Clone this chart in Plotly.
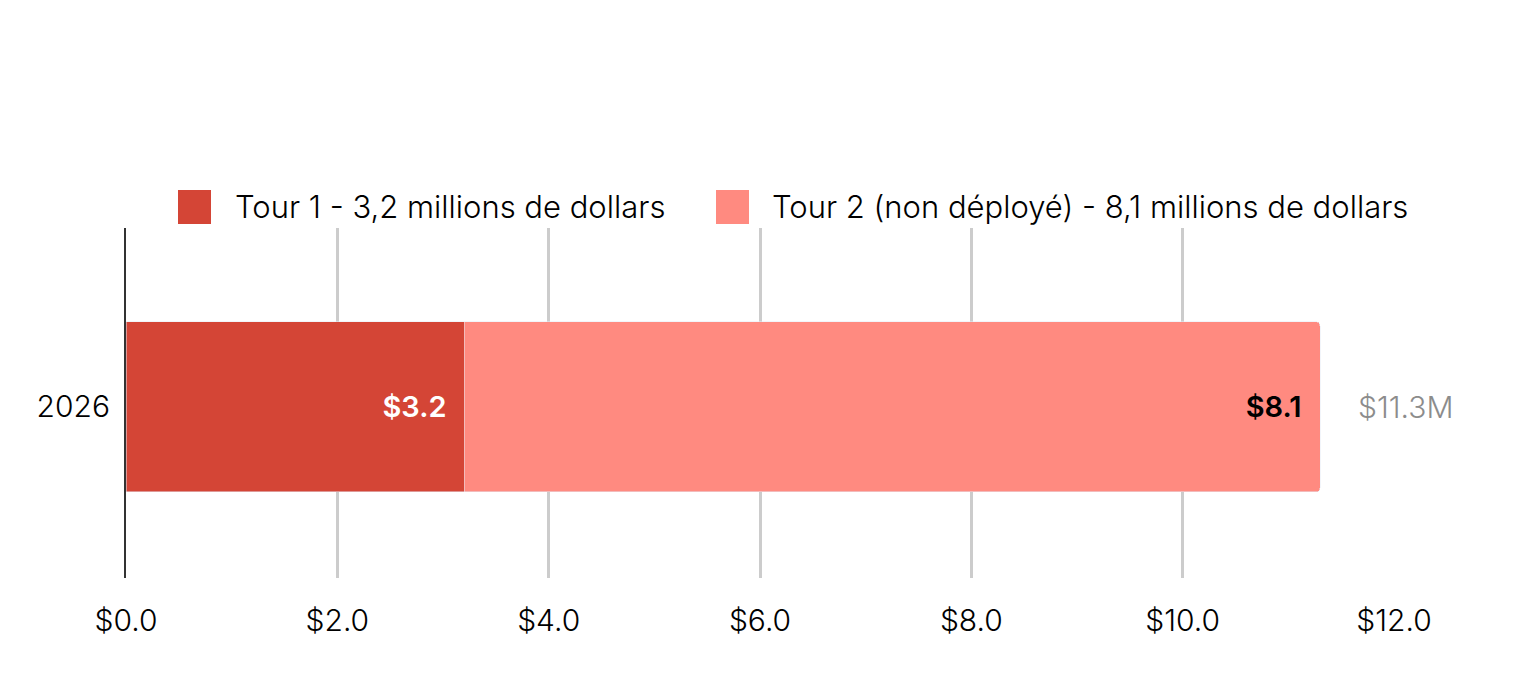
import plotly.graph_objects as go

# data
years = ["2026"]
tour1 = [3.2]
tour2 = [8.1]
series_names = ["Tour 1 - 3,2 millions de dollars",
                "Tour 2 (non déployé) - 8,1 millions de dollars"]
colors = ["#D44536", "#FF8A80"]
tick_vals = [0, 2, 4, 6, 8, 10, 12]
tick_text = ["$0.0", "$2.0", "$4.0", "$6.0", "$8.0", "$10.0", "$12.0"]
totals = [a + b for a, b in zip(tour1, tour2)]

font_fam = "Inter"
W, H = 1534, 695
ML, MR, MT, MB = 126, 140, 228, 117
PW, PH = W - ML - MR, H - MT - MB


def px_x(px):
    return (px - ML) / PW


def px_y(py):
    return (H - MB - py) / PH


pad = "&nbsp;&nbsp;"

fig = go.Figure()
fig.add_trace(go.Bar(
    y=years, x=tour1, orientation="h", name=series_names[0],
    marker_color=colors[0], width=0.486,
    text=[f"${v:.1f}{pad}" for v in tour1], textposition="inside",
    insidetextanchor="end",
    textfont=dict(family=font_fam, size=29, color="white", weight=600),
    hoverinfo="skip", showlegend=False,
))
fig.add_trace(go.Bar(
    y=years, x=tour2, orientation="h", name=series_names[1],
    marker_color=colors[1], width=0.486,
    text=[f"${v:.1f}{pad}" for v in tour2], textposition="inside",
    insidetextanchor="end",
    textfont=dict(family=font_fam, size=29, color="black", weight=600),
    hoverinfo="skip", showlegend=False,
))

# total label at the end of the stack (category axis -> use the category index)
for i, t in enumerate(totals):
    fig.add_annotation(x=t, y=i, text=f"${t:.1f}M", showarrow=False,
                       xanchor="left", xshift=36,
                       font=dict(family=font_fam, size=30, color="#8C8C8C", weight=300))

# legend drawn by hand to get the large square swatches
legend_items = [(178, 233), (716, 770)]
for (sq_x, tx_x), name, col in zip(legend_items, series_names, colors):
    fig.add_shape(type="rect", xref="paper", yref="paper",
                  x0=px_x(sq_x), x1=px_x(sq_x + 33), y0=px_y(224), y1=px_y(190),
                  fillcolor=col, line=dict(width=0), layer="above")
    fig.add_annotation(xref="paper", yref="paper", x=px_x(tx_x), y=px_y(207),
                       text=name, showarrow=False, xanchor="left", yanchor="middle",
                       font=dict(family=font_fam, size=31, color="black", weight=300))

fig.update_layout(
    barmode="stack",
    barcornerradius=4,
    width=W, height=H,
    margin=dict(l=ML, r=MR, t=MT, b=MB),
    plot_bgcolor="white", paper_bgcolor="white",
    font=dict(family=font_fam, size=30, color="black", weight=300),
    xaxis=dict(range=[0, 12.0], tickvals=tick_vals, ticktext=tick_text,
               showgrid=True, gridcolor="#CCCCCC", gridwidth=3,
               zeroline=False, showline=False, ticks="",
               ticklabelstandoff=22, tickfont=dict(size=30)),
    yaxis=dict(type="category", range=[-0.489, 0.511], showgrid=False,
               zeroline=False, showline=True, linecolor="#333333", linewidth=2,
               ticks="", ticklabelstandoff=8, tickfont=dict(size=30),
               automargin=False),
    showlegend=False,
)

fig.write_html("out.html", config={"displayModeBar": False},
               post_script="document.body.style.margin='0';")
